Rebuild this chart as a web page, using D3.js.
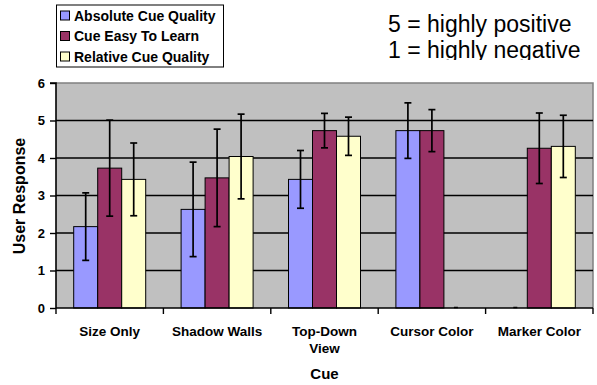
<!DOCTYPE html>
<html><head><meta charset="utf-8">
<script src="https://cdn.jsdelivr.net/npm/d3@7"></script>
<style>body{margin:0;background:#fff}svg{display:block}text{font-family:Arial,"Liberation Sans",sans-serif}</style>
</head><body>
<script>
const categories = [["Size Only"],["Shadow Walls"],["Top-Down","View"],["Cursor Color"],["Marker Color"]];
const seriesNames = ["Absolute Cue Quality","Cue Easy To Learn","Relative Cue Quality"];
const seriesColors = ["#9999FF","#993366","#FFFFCC"];
const absoluteQuality = [2.17, 2.63, 3.43, 4.73, 0];
const absoluteErr     = [0.90, 1.26, 0.77, 0.74, 0];
const easyToLearn     = [3.73, 3.47, 4.73, 4.73, 4.26];
const easyErr         = [1.28, 1.30, 0.46, 0.56, 0.94];
const relativeQuality = [3.43, 4.04, 4.58, 0, 4.31];
const relativeErr     = [0.97, 1.13, 0.51, 0, 0.83];
const yTicks = [0,1,2,3,4,5,6];
const notes = ["5 = highly positive","1 = highly negative"];

const W=597,H=385;
const svg=d3.select("body").append("svg").attr("width",W).attr("height",H);
const L=56,R=593,T=83,B=308;
const y=d3.scaleLinear().domain([0,6]).range([B,T]);
const keys=categories.map(c=>c.join(" "));
const x0=d3.scaleBand().domain(keys).range([L,R]).padding(0);
const x1=d3.scaleBand().domain(seriesNames).range([0,x0.bandwidth()]).paddingInner(0).paddingOuter(0.7375);
const vals=[absoluteQuality,easyToLearn,relativeQuality];
const errs=[absoluteErr,easyErr,relativeErr];

svg.append("rect").attr("x",L).attr("y",T).attr("width",R-L).attr("height",B-T).attr("fill","#C0C0C0");
svg.append("path").attr("d",`M${L},${T}H${R}V${B}`).attr("fill","none").attr("stroke","#808080").attr("stroke-width",1.5);
// gridlines
svg.selectAll(".grid").data(yTicks.filter(t=>t>0&&t<6)).enter().append("line")
 .attr("x1",L).attr("x2",R).attr("y1",d=>y(d)).attr("y2",d=>y(d)).attr("stroke","#000").attr("stroke-width",1.6);

// bars
const data=[];
keys.forEach((k,i)=>seriesNames.forEach((s,j)=>data.push({k,s,j,v:vals[j][i],e:errs[j][i]})));
svg.selectAll(".bar").data(data).enter().append("rect")
 .attr("x",d=>x0(d.k)+x1(d.s)).attr("width",x1.bandwidth())
 .attr("y",d=>y(d.v)).attr("height",d=>B-y(d.v))
 .attr("fill",d=>seriesColors[d.j]).attr("stroke",d=>d.v>0?"#000":"none").attr("stroke-width",1);
// error bars
const eb=svg.selectAll(".eb").data(data.filter(d=>d.v>0)).enter().append("g");
eb.append("line").attr("x1",d=>x0(d.k)+x1(d.s)+x1.bandwidth()/2).attr("x2",d=>x0(d.k)+x1(d.s)+x1.bandwidth()/2)
 .attr("y1",d=>y(d.v+d.e)).attr("y2",d=>y(d.v-d.e)).attr("stroke","#000").attr("stroke-width",1.7);
[1,-1].forEach(sg=>{
 eb.append("line").attr("x1",d=>x0(d.k)+x1(d.s)+x1.bandwidth()/2-3.5).attr("x2",d=>x0(d.k)+x1(d.s)+x1.bandwidth()/2+3.5)
 .attr("y1",d=>y(d.v+sg*d.e)).attr("y2",d=>y(d.v+sg*d.e)).attr("stroke","#000").attr("stroke-width",1.7);
});
// zero-value marks
svg.selectAll(".zm").data(data.filter(d=>d.v===0)).enter().append("line")
 .attr("x1",d=>x0(d.k)+x1(d.s)+x1.bandwidth()/2-2).attr("x2",d=>x0(d.k)+x1(d.s)+x1.bandwidth()/2+2)
 .attr("y1",B-0.5).attr("y2",B-0.5).attr("stroke","#000").attr("stroke-width",1.5);

// y axis
const ya=svg.append("g").attr("transform",`translate(${L},0)`)
 .call(d3.axisLeft(y).tickValues(yTicks).tickSize(6).tickPadding(5).tickFormat(d3.format("d")));
ya.select(".domain").attr("stroke","#000").attr("stroke-width",1.6).attr("d",`M-6,${T}H0V${B}`);
ya.selectAll(".tick line").attr("stroke","#000").attr("stroke-width",1.4);
ya.selectAll(".tick text").attr("font-size","13px").attr("font-weight","bold").attr("fill","#000").attr("font-family","Arial, Liberation Sans, sans-serif");

// x axis
const xa=svg.append("g").attr("transform",`translate(0,${B})`);
xa.append("line").attr("x1",L).attr("x2",R).attr("y1",0).attr("y2",0).attr("stroke","#000").attr("stroke-width",1.6);
const tickX=keys.map(k=>x0(k)).concat([x0(keys[keys.length-1])+x0.bandwidth()]);
xa.selectAll(".xt").data(tickX).enter().append("line").attr("x1",d=>d).attr("x2",d=>d).attr("y1",0).attr("y2",6).attr("stroke","#000").attr("stroke-width",1.4);
categories.forEach((c,i)=>{
 const t=xa.append("text").attr("x",x0(keys[i])+x0.bandwidth()/2).attr("y",28).attr("text-anchor","middle")
  .attr("font-size","13.5px").attr("font-weight","bold");
 c.forEach((ln,li)=>t.append("tspan").attr("x",x0(keys[i])+x0.bandwidth()/2).attr("dy",li?17:0).text(ln));
});
svg.append("text").attr("x",(L+R)/2).attr("y",379).attr("text-anchor","middle").attr("font-size","15px").attr("font-weight","bold").text("Cue");
svg.append("text").attr("transform",`translate(25,196) rotate(-90)`).attr("text-anchor","middle").attr("font-size","16px").attr("font-weight","bold").text("User Response");

// legend
const lg=svg.append("g");
lg.append("rect").attr("x",56.5).attr("y",5).attr("width",167).attr("height",62).attr("fill","#fff").attr("stroke","#000").attr("stroke-width",1);
seriesNames.forEach((s,i)=>{
 const cy=15.5+i*20.5;
 lg.append("rect").attr("x",60.5).attr("y",cy-4.5).attr("width",9).attr("height",9).attr("fill",seriesColors[i]).attr("stroke","#000").attr("stroke-width",1);
 lg.append("text").attr("x",74).attr("y",cy+5.2).attr("font-size","14px").attr("font-weight","bold").text(s);
});

// notes
svg.append("defs").append("clipPath").attr("id","nc").append("rect").attr("x",300).attr("y",0).attr("width",297).attr("height",60);
const ng=svg.append("g").attr("clip-path","url(#nc)");
notes.forEach((n,i)=>ng.append("text").attr("x",388).attr("y",31.5+i*26).attr("font-size","23px").text(n));
</script>
</body></html>
